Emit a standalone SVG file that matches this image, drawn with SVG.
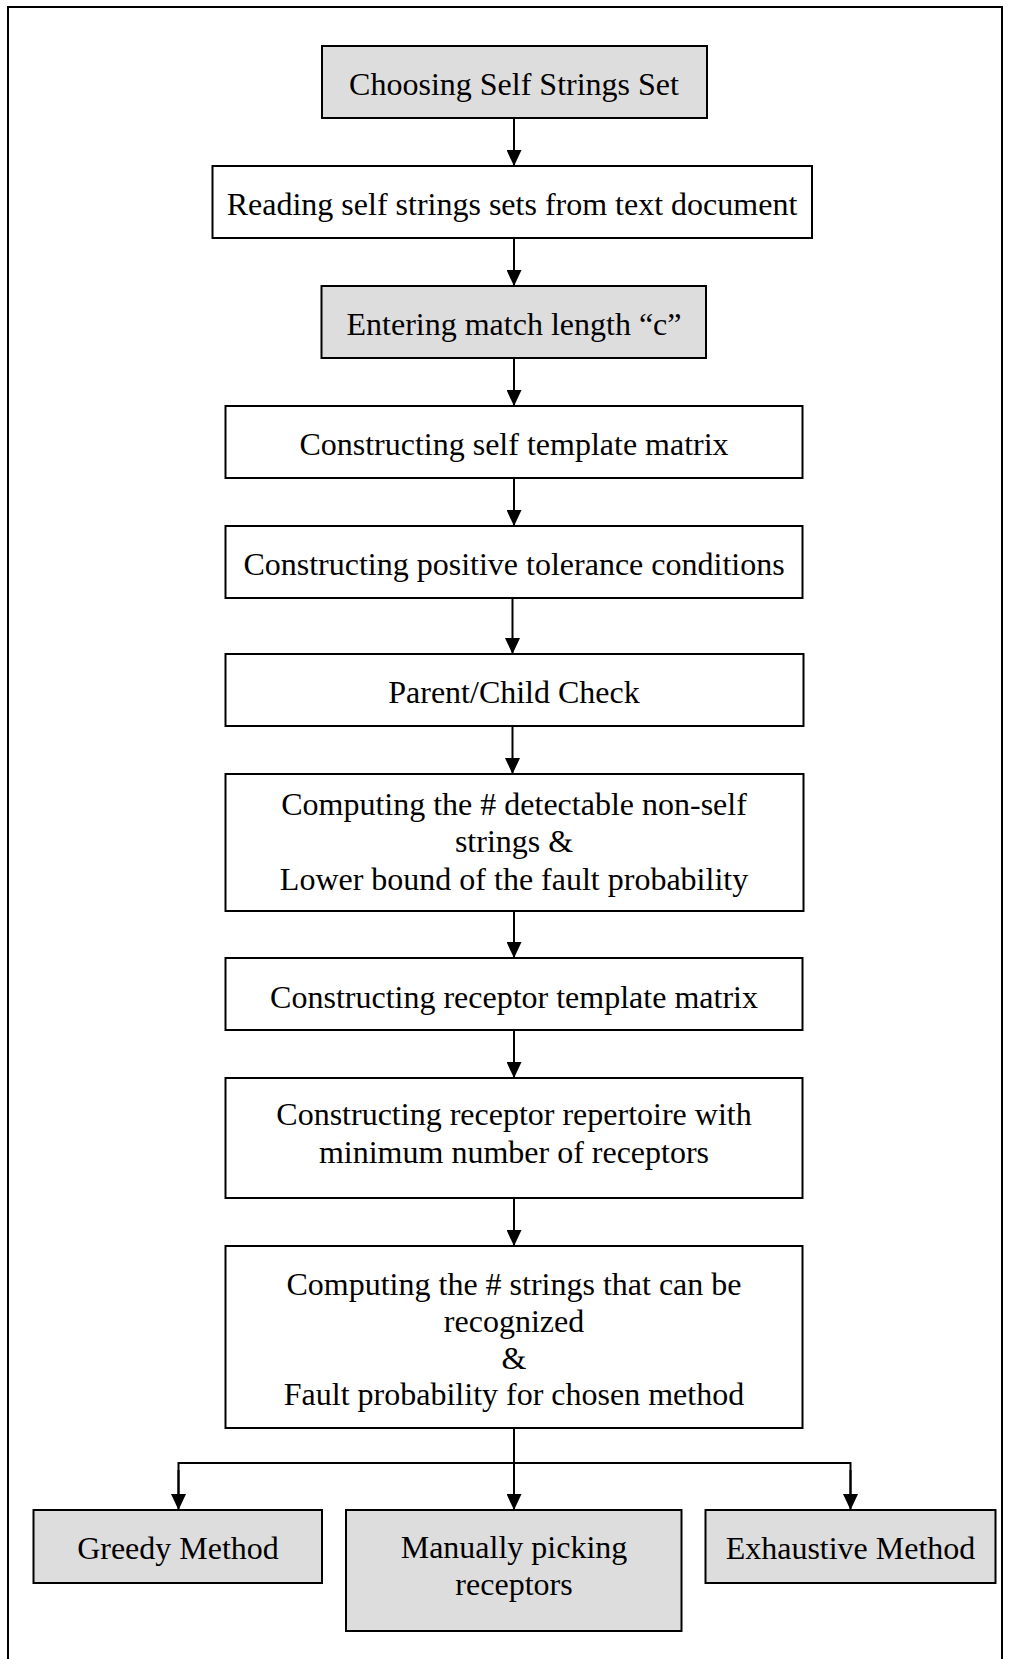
<svg xmlns="http://www.w3.org/2000/svg" width="1010" height="1659" viewBox="0 0 1010 1659">
<style>
.box{fill:#ffffff;stroke:#000;stroke-width:2}
.gray{fill:#dddddd;stroke:#000;stroke-width:2}
.t{font-family:"Liberation Serif","Times New Roman",serif;font-size:32px;fill:#000;text-anchor:middle}
.c{fill:none;stroke:#000;stroke-width:2}
</style>
<defs>
<marker id="ah" markerWidth="16" markerHeight="15" refX="16" refY="7.5" orient="auto" markerUnits="userSpaceOnUse" viewBox="0 0 16 15">
<path d="M0,0 L16,7.5 L0,15 Z" fill="#000"/>
</marker>
</defs>
<rect width="1010" height="1659" fill="#fff"/>
<path d="M8,1659 V7 H1002 V1659" fill="none" stroke="#000" stroke-width="2"/>
<g id="connectors">
<line class="c" x1="514" y1="118" x2="514" y2="166" marker-end="url(#ah)"/>
<line class="c" x1="514" y1="238" x2="514" y2="286" marker-end="url(#ah)"/>
<line class="c" x1="514" y1="358" x2="514" y2="406" marker-end="url(#ah)"/>
<line class="c" x1="514" y1="478" x2="514" y2="526" marker-end="url(#ah)"/>
<line class="c" x1="512.5" y1="598" x2="512.5" y2="654" marker-end="url(#ah)"/>
<line class="c" x1="512.5" y1="726" x2="512.5" y2="774" marker-end="url(#ah)"/>
<line class="c" x1="514" y1="911" x2="514" y2="958" marker-end="url(#ah)"/>
<line class="c" x1="514" y1="1030" x2="514" y2="1078" marker-end="url(#ah)"/>
<line class="c" x1="514" y1="1198" x2="514" y2="1246" marker-end="url(#ah)"/>
<line class="c" x1="514" y1="1428" x2="514" y2="1510" marker-end="url(#ah)"/>
<path class="c" d="M178.5,1496 V1463 H850.5 V1496"/>
<line class="c" x1="178.5" y1="1470" x2="178.5" y2="1510" marker-end="url(#ah)"/>
<line class="c" x1="850.5" y1="1470" x2="850.5" y2="1510" marker-end="url(#ah)"/>
</g>
<g id="n1"><rect class="gray" x="322" y="46" width="385" height="72"/><text class="t" x="514" y="95">Choosing Self Strings Set</text></g>
<g id="n2"><rect class="box" x="212.5" y="166" width="599.5" height="72"/><text class="t" x="512" y="215">Reading self strings sets from text document</text></g>
<g id="n3"><rect class="gray" x="321.5" y="286" width="384.5" height="72"/><text class="t" x="514" y="335">Entering match length “c”</text></g>
<g id="n4"><rect class="box" x="225.5" y="406" width="577" height="72"/><text class="t" x="514" y="455">Constructing self template matrix</text></g>
<g id="n5"><rect class="box" x="225.5" y="526" width="577" height="72"/><text class="t" x="514" y="575">Constructing positive tolerance conditions</text></g>
<g id="n6"><rect class="box" x="225.5" y="654" width="578" height="72"/><text class="t" x="514" y="703">Parent/Child Check</text></g>
<g id="n7"><rect class="box" x="225.5" y="774" width="578" height="137"/><text class="t" x="514" y="815">Computing the # detectable non-self</text><text class="t" x="514" y="852">strings &amp;</text><text class="t" x="514" y="890">Lower bound of the fault probability</text></g>
<g id="n8"><rect class="box" x="225.5" y="958" width="577" height="72"/><text class="t" x="514" y="1008">Constructing receptor template matrix</text></g>
<g id="n9"><rect class="box" x="225.5" y="1078" width="577" height="120"/><text class="t" x="514" y="1125">Constructing receptor repertoire with</text><text class="t" x="514" y="1163">minimum number of receptors</text></g>
<g id="n10"><rect class="box" x="225.5" y="1246" width="577" height="182"/><text class="t" x="514" y="1295">Computing the # strings that can be</text><text class="t" x="514" y="1332">recognized</text><text class="t" x="514" y="1369">&amp;</text><text class="t" x="514" y="1405">Fault probability for chosen method</text></g>
<g id="n11"><rect class="gray" x="33.5" y="1510" width="288.5" height="73"/><text class="t" x="178" y="1559">Greedy Method</text></g>
<g id="n12"><rect class="gray" x="346" y="1510" width="335.5" height="121"/><text class="t" x="514" y="1558">Manually picking</text><text class="t" x="514" y="1595">receptors</text></g>
<g id="n13"><rect class="gray" x="705.5" y="1510" width="290" height="73"/><text class="t" x="850.5" y="1559">Exhaustive Method</text></g>
</svg>
